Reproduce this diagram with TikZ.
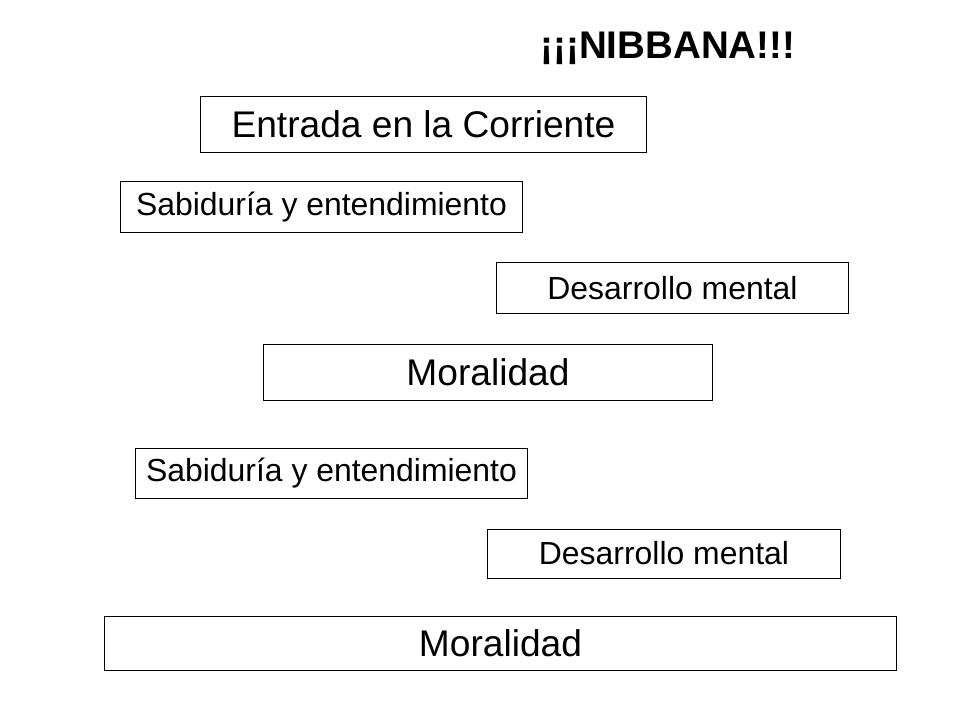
\documentclass[tikz,border=0pt]{standalone}
\usepackage{fontspec}
\setmainfont{Liberation Sans}
\usepackage{tikz}

\begin{document}
\begin{tikzpicture}[x=0.025cm,y=-0.025cm]
        \tikzstyle{stage}=[draw,line width=0.7pt,inner sep=0pt,font=\fontsize{26.4}{29}\selectfont];
        \tikzstyle{substage}=[draw,line width=0.7pt,inner sep=0pt,font=\fontsize{22.7}{25}\selectfont];
        \useasboundingbox (0,0) rectangle (960,720);
        \node (v0) at (668,48) {\fontsize{27.4}{30}\selectfont\bfseries ¡¡¡NIBBANA!!!};
        \node [stage, minimum width=11.125cm, minimum height=1.375cm] (v1) at (423.5,124.5) {Entrada en la Corriente};
        \node [substage, minimum width=10.025cm, minimum height=1.25cm] (v2) at (321.5,207) {Sabiduría y entendimiento};
        \node [substage, minimum width=8.775cm, minimum height=1.25cm] (v3) at (672.5,288) {Desarrollo mental};
        \node [stage, minimum width=11.2cm, minimum height=1.375cm] (v4) at (488,372.5) {Moralidad};
        
        \node [substage, minimum width=9.775cm, minimum height=1.25cm] (v5) at (331.5,473) {Sabiduría y entendimiento};
        \node [substage, minimum width=8.8cm, minimum height=1.225cm] (v6) at (664,553.5) {Desarrollo mental};
        \node [stage, minimum width=19.775cm, minimum height=1.35cm] (v7) at (500.5,643) {Moralidad};
    \end{tikzpicture}
\end{document}
